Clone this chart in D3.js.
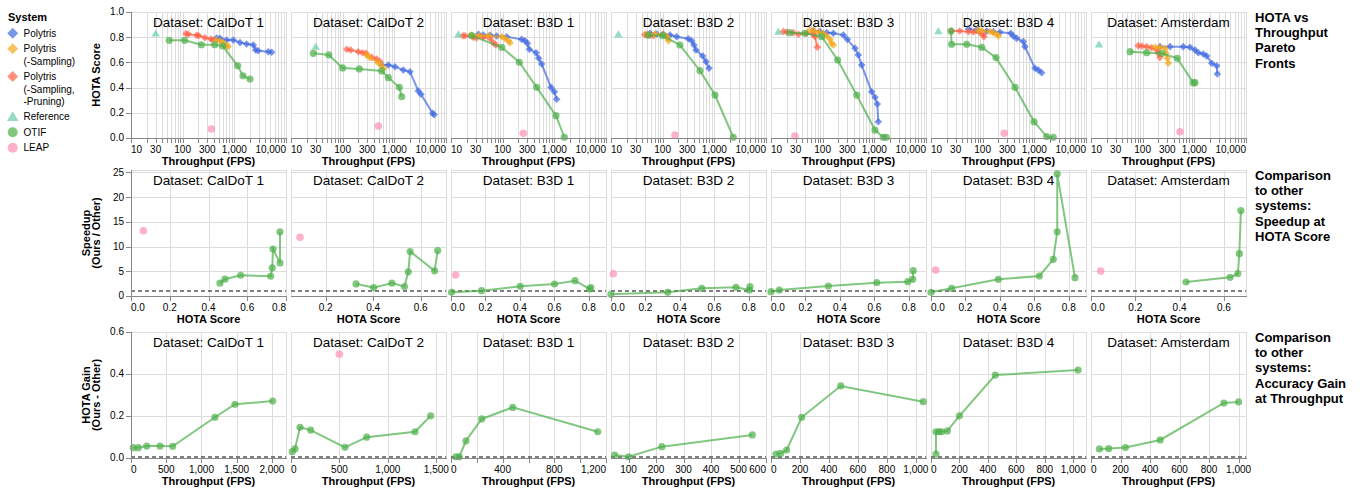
<!DOCTYPE html>
<html><head><meta charset="utf-8">
<script src="https://cdn.jsdelivr.net/npm/d3@7"></script>
<style>body{margin:0;background:#fff}svg{font-family:"Liberation Sans",Arial,Helvetica,sans-serif}</style>
</head><body><svg id="c" width="1364" height="489"></svg>
<script>
// ---------------- DATA ----------------
const datasets = ["CalDoT 1","CalDoT 2","B3D 1","B3D 2","B3D 3","B3D 4","Amsterdam"];
const systems = ["Polytris","Polytris (-Sampling)","Polytris (-Sampling, -Pruning)","Reference","OTIF","LEAP"];
const legendLines = [["Polytris"],["Polytris","(-Sampling)"],["Polytris","(-Sampling,","-Pruning)"],["Reference"],["OTIF"],["LEAP"]];

// Row 1: [throughput (FPS), HOTA] per dataset
const paretoPolytris = [
  [[456,0.794],[528,0.791],[711,0.778],[955,0.778],[1290,0.757],[1730,0.746],[2330,0.738],[2590,0.698],[2900,0.693],[4540,0.685],[5280,0.68]],
  [[569,0.579],[765,0.579],[1030,0.566],[1490,0.54],[2010,0.526],[2910,0.373],[3280,0.347],[5520,0.196],[5900,0.185]],
  [[34,0.823],[42,0.817],[57,0.815],[77,0.81],[119,0.804],[233,0.783],[270,0.772],[301,0.751],[328,0.704],[442,0.677],[498,0.633],[569,0.587],[861,0.402],[1000,0.368],[1110,0.307]],
  [[57,0.831],[77,0.825],[103,0.823],[139,0.817],[187,0.804],[313,0.788],[364,0.772],[404,0.738],[442,0.698],[595,0.651],[690,0.606],[789,0.553]],
  [[66,0.852],[89,0.844],[120,0.836],[161,0.831],[251,0.817],[300,0.783],[423,0.712],[490,0.659],[569,0.579],[888,0.367],[1030,0.323],[1143,0.27],[1193,0.129]],
  [[53,0.865],[77,0.857],[120,0.849],[161,0.844],[216,0.839],[349,0.831],[392,0.81],[456,0.791],[611,0.765],[659,0.725],[1030,0.553],[1193,0.54],[1387,0.518]],
  [[216,0.725],[338,0.725],[611,0.725],[824,0.72],[1030,0.698],[1193,0.677],[1492,0.667],[1734,0.651],[2168,0.593],[2710,0.574],[2786,0.508]]
];
const paretoNoSampling = [
  [[456,0.778],[528,0.77],[611,0.757],[711,0.733],[754,0.725]],
  [[290,0.66],[330,0.64],[480,0.6],[560,0.575],[620,0.553]],
  [[25,0.817],[36,0.814],[53,0.812],[96,0.804],[111,0.791],[129,0.772],[139,0.756]],
  [[49,0.825],[71,0.825],[100,0.823],[118,0.81],[125,0.79],[130,0.772]],
  [[57,0.857],[66,0.852],[82,0.841],[103,0.831],[120,0.81],[139,0.783],[149,0.751],[161,0.738]],
  [[82,0.857],[96,0.852],[139,0.844],[161,0.836],[187,0.823],[201,0.81]],
  [[173,0.72],[216,0.72],[270,0.712],[283,0.672],[300,0.632],[313,0.593]]
];
const paretoNoSamplingNoPruning = [
  [[116,0.828],[129,0.823],[187,0.815],[204,0.812],[270,0.796],[353,0.786],[392,0.778]],
  [[120,0.704],[143,0.698],[201,0.685],[244,0.677],[283,0.672],[364,0.64],[455,0.627],[528,0.606]],
  [[17,0.812],[18.7,0.812],[27,0.799],[31,0.794],[42,0.799],[57,0.791],[66,0.756],[74,0.738]],
  [[45,0.82],[50,0.817],[56,0.815],[66,0.812]],
  [[17.3,0.844],[20,0.841],[27,0.836],[34,0.823],[49,0.831],[66,0.823],[71,0.804],[79,0.72]],
  [[25,0.849],[36,0.849],[53,0.844],[66,0.841],[89,0.836],[103,0.823],[106,0.804]],
  [[82,0.733],[96,0.73],[120,0.725],[149,0.717],[187,0.698],[201,0.672],[216,0.64]]
];
const paretoReference = [[30,0.83],[30,0.725],[13.9,0.823],[13.9,0.823],[13.9,0.844],[13.9,0.849],[14.3,0.743]];
const paretoOTIF = [
  [[55,0.775],[109,0.775],[230,0.74],[417,0.74],[596,0.73],[1160,0.573],[1470,0.494],[2010,0.468]],
  [[27,0.672],[54,0.659],[100,0.556],[210,0.548],[569,0.532],[765,0.479],[1250,0.402],[1387,0.328]],
  [[25,0.812],[96,0.72],[210,0.601],[456,0.402],[1077,0.177],[1560,0.006]],
  [[53,0.817],[100,0.812],[216,0.738],[528,0.534],[1030,0.341],[2330,0.006]],
  [[23,0.836],[45,0.831],[96,0.804],[195,0.619],[456,0.341],[1030,0.063],[1490,0.006],[1700,0.006]],
  [[24.4,0.849],[25,0.744],[49,0.744],[96,0.72],[181,0.638],[423,0.402],[986,0.129],[1734,0.011],[2330,0.006]],
  [[57,0.685],[120,0.677],[233,0.672],[469,0.632],[955,0.439],[1030,0.439]]
];
const paretoLEAP = [[360,0.071],[490,0.095],[251,0.037],[173,0.024],[29,0.016],[262,0.037],[528,0.05]];

// Row 2: [HOTA score, speedup]
const speedupOTIF = [
  [[0.459,2.6],[0.485,3.4],[0.566,4.2],[0.721,4.0],[0.729,5.7],[0.733,9.5],[0.769,6.7],[0.769,13.0]],
  [[0.328,2.45],[0.402,1.7],[0.479,2.6],[0.532,1.9],[0.548,4.9],[0.556,9.0],[0.659,5.1],[0.672,9.2]],
  [[0.003,0.75],[0.177,1.07],[0.402,1.96],[0.601,2.43],[0.72,3.1],[0.805,1.42],[0.812,1.7]],
  [[0.0,0.34],[0.329,0.75],[0.527,1.56],[0.726,1.76],[0.803,1.21],[0.807,1.88]],
  [[0.0,0.87],[0.048,1.21],[0.333,2.02],[0.614,2.69],[0.794,2.9],[0.823,3.38],[0.826,5.12]],
  [[0.0,0.75],[0.12,1.56],[0.391,3.38],[0.629,4.05],[0.71,7.43],[0.733,13.0],[0.733,24.7],[0.836,3.7]],
  [[0.429,2.83],[0.628,3.79],[0.663,4.51],[0.67,8.56],[0.677,17.3]]
];
const speedupLEAP = [[0.064,13.2],[0.092,11.9],[0.027,4.25],[0.013,4.5],null,[0.027,5.26],[0.044,5.06]];

// Row 3: [throughput (FPS), HOTA gain]
const gainOTIF = [
  [[33,0.049],[104,0.049],[223,0.057],[412,0.057],[592,0.056],[1192,0.194],[1476,0.256],[2011,0.271]],
  [[13,0.03],[41,0.043],[93,0.146],[203,0.133],[557,0.051],[781,0.099],[1280,0.125],[1442,0.201]],
  [[39,0.006],[64,0.006],[116,0.082],[238,0.186],[478,0.241],[1136,0.125]],
  [[49,0.014],[100,0.006],[221,0.054],[550,0.11]],
  [[35,0.019],[67,0.022],[108,0.038],[212,0.194],[481,0.343],[1051,0.268]],
  [[35,0.019],[35,0.125],[56,0.125],[75,0.125],[115,0.129],[200,0.201],[452,0.395],[1035,0.419]],
  [[57,0.043],[120,0.045],[233,0.05],[469,0.086],[900,0.262],[1000,0.267]]
];
const gainLEAP = [null,[499,0.494],null,null,null,null,null];

const throughputTickLabels = [10,30,100,300,1000,10000];
const speedupTicks = [0,5,10,15,20,25];
const hotaTicks = [0,0.2,0.4,0.6,0.8,1.0];
const gainTicks = [0,0.2,0.4,0.6];
const rowTitles = [["HOTA vs","Throughput","Pareto","Fronts"],["Comparison","to other","systems:","Speedup at","HOTA Score"],["Comparison","to other","systems:","Accuracy Gain","at Throughput"]];

// scale settings per panel
const speedupXDomains = [[0,0.8],[0.054,0.707],[0,0.9],[0,0.9],[0,0.9],[0,0.9],[0,0.7]];
const gainXDomains = [[0,2200],[0,1600],[0,1200],[36,600],[0,1070],[0,1090],[0,1050]];
const gainTickStep = [500,500,200,100,200,200,200];
const gainLabelEvery = [1,1,2,1,1,1,1];

// ---------------- STYLE ----------------
const colors = {"Polytris":"#4169E1","Polytris (-Sampling)":"#F4A81C","Polytris (-Sampling, -Pruning)":"#FF6347","Reference":"#66CDAA","OTIF":"#4DAF4A","LEAP":"#FF8FB5"};
const shapes = {"Polytris":"diamond","Polytris (-Sampling)":"diamond","Polytris (-Sampling, -Pruning)":"diamond","Reference":"triangle","OTIF":"circle","LEAP":"circle"};
const OP = 0.7;
const svg = d3.select("#c");
const panelX0 = 131, panelStep = 160, panelW = 155;
const rows = [{top:12,h:126},{top:170,h:126},{top:332,h:126}];

function symPath(shape, s){
  if(shape==="diamond") return `M0,${-s}L${s},0L0,${s}L${-s},0Z`;
  if(shape==="triangle") return `M0,${-s}L${s*1.05},${s*0.8}L${-s*1.05},${s*0.8}Z`;
  return `M${-s},0A${s},${s},0,1,0,${s},0A${s},${s},0,1,0,${-s},0Z`;
}
function marks(g, pts, sys, x, y, withLine, size){
  if(!pts) return;
  const c = colors[sys];
  if(withLine && pts.length>1){
    g.append("path").datum(pts).attr("fill","none").attr("stroke",c).attr("stroke-width",2).attr("opacity",OP)
      .attr("d", d3.line().x(d=>x(d[0])).y(d=>y(d[1])));
  }
  g.selectAll(null).data(pts).enter().append("path")
    .attr("transform",d=>`translate(${x(d[0])},${y(d[1])})`)
    .attr("d",symPath(shapes[sys], size)).attr("fill",c).attr("opacity",OP);
}
function grid(g, x, y, xt, yt){
  const [x0,x1]=x.range(), [y1,y0]=y.range();
  xt.forEach(t=>{const p=Math.round(x(t))+0.5; g.append("line").attr("x1",p).attr("x2",p).attr("y1",y0).attr("y2",y1).attr("stroke","#ddd");});
  yt.forEach(t=>{const p=Math.round(y(t))+0.5; g.append("line").attr("x1",x0).attr("x2",x1).attr("y1",p).attr("y2",p).attr("stroke","#ddd");});
  g.append("rect").attr("x",x0+0.5).attr("y",y0+0.5).attr("width",x1-x0).attr("height",y1-y0).attr("fill","none").attr("stroke","#ddd");
}
function xAxis(g, x, ticks, labels, fmt, bottom, title){
  const [r0,r1]=x.range();
  g.append("line").attr("x1",r0).attr("x2",r1+1).attr("y1",bottom+0.5).attr("y2",bottom+0.5).attr("stroke","#888");
  ticks.forEach(t=>{const p=Math.round(x(t))+0.5; g.append("line").attr("x1",p).attr("x2",p).attr("y1",bottom).attr("y2",bottom+5).attr("stroke","#888");});
  labels.forEach(t=>{const p=x(t); let a="middle"; if(Math.abs(p-r0)<1.5)a="start"; else if(Math.abs(p-r1)<1.5)a="end";
    g.append("text").attr("x",p).attr("y",bottom+15).attr("text-anchor",a).attr("font-size",10).attr("fill","#000").text(fmt(t));});
  g.append("text").attr("x",(r0+r1)/2).attr("y",bottom+27).attr("text-anchor","middle").attr("font-size",11).attr("font-weight","bold").text(title);
}
function yAxis(g, y, ticks, fmt, left, titleLines){
  const [b,t]=y.range();
  g.append("line").attr("x1",left+0.5).attr("x2",left+0.5).attr("y1",t).attr("y2",b+1).attr("stroke","#888");
  ticks.forEach(v=>{const p=Math.round(y(v))+0.5; g.append("line").attr("x1",left-5).attr("x2",left).attr("y1",p).attr("y2",p).attr("stroke","#888");
    g.append("text").attr("x",left-7).attr("y",y(v)).attr("dy","0.34em").attr("text-anchor","end").attr("font-size",10).text(fmt(v));});
  const cy=(t+b)/2;
  const xs = titleLines.length===1 ? [96.5] : [86,96];
  titleLines.forEach((s,i)=>{
    g.append("text").attr("transform",`translate(${xs[i]},${cy}) rotate(-90)`).attr("dy","0.35em").attr("text-anchor","middle")
      .attr("font-size",11).attr("font-weight","bold").text(s);
  });
}
function panelTitle(g, L, top, i){
  g.append("text").attr("x",L+panelW/2).attr("y",top+14.5).attr("text-anchor","middle").attr("font-size",13.5).attr("fill","#000").text("Dataset: "+datasets[i]);
}
const f1 = d3.format(".1f"), fc = d3.format(",");

datasets.forEach((ds,i)=>{
  const L = panelX0 + i*panelStep, R = L+panelW;
  // ---- Row 1 ----
  {
    const r=rows[0], g=svg.append("g");
    const x=d3.scaleLog().domain([10,10000]).range([L,R]);
    const y=d3.scaleLinear().domain([0,1]).range([r.top+r.h,r.top]);
    const xt=x.ticks();
    grid(g,x,y,xt,hotaTicks);
    panelTitle(g,L,r.top,i);
    marks(g,paretoPolytris[i],"Polytris",x,y,true,3.8);
    marks(g,paretoNoSamplingNoPruning[i],"Polytris (-Sampling, -Pruning)",x,y,true,3.8);
    marks(g,paretoNoSampling[i],"Polytris (-Sampling)",x,y,true,3.8);
    marks(g,paretoOTIF[i],"OTIF",x,y,true,3.6);
    marks(g,[paretoReference[i]],"Reference",x,y,false,4);
    marks(g,[paretoLEAP[i]],"LEAP",x,y,false,3.8);
    xAxis(g,x,xt,throughputTickLabels,fc,r.top+r.h,"Throughput (FPS)");
    if(i===0) yAxis(g,y,hotaTicks,f1,L,["HOTA Score"]);
  }
  // ---- Row 2 ----
  {
    const r=rows[1], g=svg.append("g");
    const x=d3.scaleLinear().domain(speedupXDomains[i]).range([L,R]);
    const y=d3.scaleLinear().domain([0,25.5]).range([r.top+r.h,r.top]);
    const d=speedupXDomains[i];
    const xt=d3.range(0,1.0001,0.2).filter(v=>v>=d[0]-1e-9&&v<=d[1]+1e-9);
    grid(g,x,y,xt,speedupTicks);
    panelTitle(g,L,r.top,i);
    g.append("line").attr("x1",L).attr("x2",R).attr("y1",y(1)).attr("y2",y(1)).attr("stroke","#555").attr("stroke-width",1.5).attr("stroke-dasharray","4,3");
    marks(g,speedupOTIF[i],"OTIF",x,y,true,3.6);
    if(speedupLEAP[i]) marks(g,[speedupLEAP[i]],"LEAP",x,y,false,3.8);
    xAxis(g,x,xt,xt,f1,r.top+r.h,"HOTA Score");
    if(i===0) yAxis(g,y,speedupTicks,d3.format("d"),L,["Speedup","(Ours / Other)"]);
  }
  // ---- Row 3 ----
  {
    const r=rows[2], g=svg.append("g");
    const d=gainXDomains[i];
    const x=d3.scaleLinear().domain(d).range([L,R]);
    const y=d3.scaleLinear().domain([0,0.6]).range([r.top+r.h,r.top]);
    const st=gainTickStep[i];
    const xt=d3.range(Math.ceil(d[0]/st)*st, d[1]+1e-6, st);
    const lab=xt.filter((v,k)=>k%gainLabelEvery[i]===0);
    grid(g,x,y,xt,gainTicks);
    panelTitle(g,L,r.top,i);
    g.append("line").attr("x1",L).attr("x2",R).attr("y1",y(0)-1).attr("y2",y(0)-1).attr("stroke","#555").attr("stroke-width",1.5).attr("stroke-dasharray","4,3");
    marks(g,gainOTIF[i],"OTIF",x,y,true,3.6);
    if(gainLEAP[i]) marks(g,[gainLEAP[i]],"LEAP",x,y,false,3.8);
    xAxis(g,x,xt,lab,fc,r.top+r.h,"Throughput (FPS)");
    if(i===0) yAxis(g,y,gainTicks,f1,L,["HOTA Gain","(Ours - Other)"]);
  }
});

// row titles on the right
const rowTitleTops=[21.5,179.5,341.5];
rowTitles.forEach((lines,ri)=>{
  lines.forEach((s,k)=>svg.append("text").attr("x",1255).attr("y",rowTitleTops[ri]+k*15.4).attr("font-size",13).attr("font-weight","bold").text(s));
});

// legend
const lg=svg.append("g");
lg.append("text").attr("x",8).attr("y",20.5).attr("font-size",11).attr("font-weight","bold").text("System");
let ly=33.3;
systems.forEach((s,k)=>{
  const sz = shapes[s]==="diamond"?5.5:(shapes[s]==="triangle"?5.5:5);
  lg.append("path").attr("transform",`translate(12.7,${ly})`).attr("d",symPath(shapes[s],sz)).attr("fill",colors[s]).attr("opacity",OP);
  legendLines[k].forEach((t,j)=>lg.append("text").attr("x",23.5).attr("y",ly+3.6+j*12.3).attr("font-size",10).text(t));
  ly += 15.5 + (legendLines[k].length-1)*12.3;
});
</script></body></html>
